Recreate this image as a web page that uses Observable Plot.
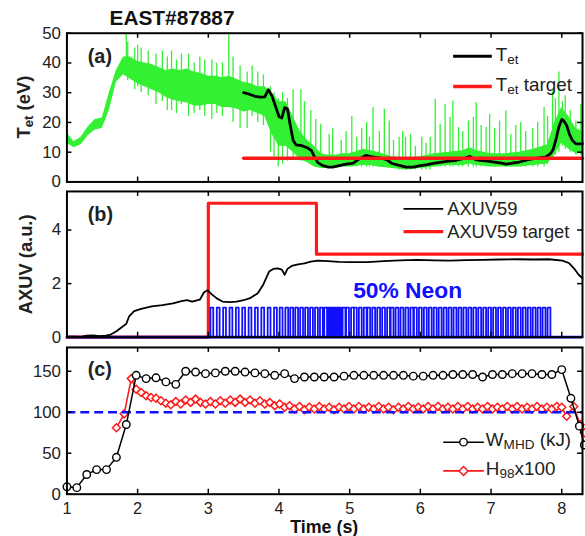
<!DOCTYPE html>
<html><head><meta charset="utf-8">
<script src="https://cdn.jsdelivr.net/npm/d3@7"></script>
<script src="https://cdn.jsdelivr.net/npm/@observablehq/plot@0.6"></script>
<style>
body{margin:0;background:#fff;overflow:hidden;}
#wrap{position:relative;width:585px;height:536px;overflow:hidden;background:#fff;}
#wrap svg{position:absolute;left:0;overflow:visible;}
</style></head><body><div id="wrap"></div>
<script>
// ---------- data ----------
const title = "EAST#87887";
const xTicks = [1, 2, 3, 4, 5, 6, 7, 8];
const xDomain = [1, 8.294];

// Panel (a)
const yTicksA = [0, 10, 20, 30, 40, 50];
const greenT  = [1.0,1.1,1.2,1.3,1.4,1.5,1.6,1.7,1.8,1.9,2.0,2.1,2.2,2.3,2.4,2.5,2.6,2.7,2.8,2.9,3.0,3.1,3.2,3.3,3.4,3.5,3.6,3.7,3.8,3.9,4.0,4.1,4.2,4.3,4.4,4.5,4.6,4.7,4.8,4.9,5.0,5.2,5.3,5.4,5.6,5.8,6.0,6.2,6.4,6.6,6.7,6.8,7.0,7.2,7.4,7.6,7.8,7.9,8.0,8.1,8.2,8.294];
const greenLo = [13,11.5,12.5,15.5,17.5,18,24,33.5,36,34.5,33,32,31,30,28.5,27.5,27,26.5,25.5,25.5,26,26,25,25,24.5,23.5,24,23,22,16,12,12,10,7.5,6.5,5,4.5,4.5,4.5,5,5,5.5,5.5,5,4.5,4,4.5,5,5.5,5.5,6,5.5,5,5,5,5.5,6,9,13,11,9.5,9.5];
const greenHi = [16.5,13.5,15,18.5,21,21.5,30,37.5,42,42,40.5,40,39.5,38.5,37.5,38,37.5,38,37,36.5,35.5,35.5,35,35.5,34.5,33.5,33,32,32,30,27,27,22,17,14,12,9.5,9,9,9.5,9.5,11,10.5,10,8.5,8,8.5,9.5,10,10.5,11.5,10.5,9.5,9.5,10,11,12.5,20,25,22,18,17];
const spikeT  = [1.84,1.86,1.96,2.00,2.05,2.15,2.26,2.35,2.42,2.48,2.55,2.62,2.72,2.80,2.88,2.95,3.05,3.12,3.20,3.29,3.35,3.45,3.55,3.62,3.70,3.78,3.88,3.93,3.99,4.05,4.12,4.20,4.31,4.36,4.45,4.52,4.59,4.71,4.76,4.88,4.95,5.03,5.10,5.17,5.24,5.28,5.33,5.42,5.49,5.56,5.62,5.70,5.75,5.79,5.86,5.93,6.02,6.08,6.14,6.21,6.28,6.35,6.42,6.46,6.54,6.60,6.68,6.75,6.79,6.86,6.93,6.98,7.05,7.12,7.21,7.28,7.35,7.42,7.49,7.59,7.66,7.75,7.80,7.87,7.91,7.96,8.01,8.05,8.12,8.20,8.27];
const spikeLo = [36,34,31,32,30,29,26,27,24,24,23,26,22,23,24,22,21,23,22,25,20,18,18,22,20,19,10,8,5,6,7,8,7,7,6,6,5,5,5,5,5,5,5,5,5,5,5,5,5,5,5,4,4,4,4,4,4,4,4,5,5,5,5,5,5,5,5,5,5,5,5,5,5,5,5,5,5,5,5,5,5,5,6,8,9,10,12,11,10,9,9];
const spikeHi = [50,47,45,46,45,44,43,44,42,44,41,43,43,40,42,41,41,40,40,50,42,39,37,39,37,36,32,30,28,30,28,31,31,27,24,21,19.4,16,18,14,17,22,15,18,20,15,25,17,24.4,20.5,14,15,17,15,16,12,15,13,15,27.8,19.4,26,21.7,27.2,18.3,17,20.5,21.7,26.7,19,18.3,22.8,18,20.5,23.9,16,19,20,17,18,20,25,22,30.6,28,37,27,29,24,20.5,26];
const tetT = [3.50,3.58,3.66,3.74,3.80,3.85,3.90,3.95,4.00,4.04,4.08,4.12,4.16,4.20,4.24,4.32,4.40,4.46,4.50,4.55,4.62,4.70,4.76,4.85,4.95,5.05,5.15,5.23,5.30,5.37,5.45,5.52,5.60,5.70,5.80,5.90,6.00,6.10,6.20,6.30,6.40,6.50,6.60,6.70,6.78,6.86,6.95,7.05,7.15,7.21,7.30,7.40,7.50,7.60,7.70,7.78,7.84,7.88,7.92,7.96,8.00,8.03,8.07,8.11,8.15,8.20,8.294];
const tetV = [30,29.5,28.8,28.5,28.6,31,29,25.5,22,21.5,25,24.5,19,14,12.5,12.2,11.5,10.5,8.5,6.5,5.5,5,5,5.5,6,6.3,8,8.9,8.5,8.3,8,7.5,6.2,5.6,5,5,5.5,5.8,6.3,6.7,7,7.2,7.8,8.6,7.5,7.2,7,6.7,6.3,6,6.3,6.7,7.3,7.8,8.2,8.4,9.5,11,14.5,18.5,21,20.5,19,16,14,12.8,12.8];
const tetTargetT = [3.5, 8.294];
const tetTargetV = [8, 8];

// Panel (b)
const yTicksB = [0, 2, 4];
const axuvT = [1.00,1.10,1.20,1.28,1.37,1.46,1.55,1.62,1.70,1.78,1.84,1.88,1.95,2.05,2.20,2.35,2.50,2.62,2.70,2.77,2.88,2.94,2.99,3.05,3.12,3.20,3.30,3.40,3.50,3.60,3.70,3.78,3.86,3.92,3.98,4.04,4.08,4.12,4.18,4.27,4.36,4.45,4.55,4.69,4.85,5.00,5.25,5.48,5.71,5.95,6.20,6.42,6.65,6.89,7.10,7.35,7.60,7.82,8.01,8.10,8.17,8.24,8.294];
const axuvV = [0.02,0.02,0.01,0.06,0.07,0.04,0.06,0.1,0.22,0.38,0.5,0.78,0.97,1.06,1.15,1.2,1.26,1.35,1.38,1.33,1.4,1.68,1.75,1.6,1.45,1.33,1.31,1.33,1.38,1.47,1.64,1.98,2.45,2.55,2.57,2.52,2.33,2.55,2.66,2.72,2.76,2.82,2.86,2.84,2.81,2.80,2.80,2.84,2.87,2.89,2.87,2.86,2.88,2.89,2.90,2.91,2.90,2.91,2.86,2.77,2.58,2.33,2.2];
const axuvTargetT = [1.0, 3.0, 4.53, 8.294];
const axuvTargetV = [0, 5, 3.1, 3.1];
const neonPulses = [3.03,3.12,3.21,3.30,3.39,3.48,3.57,3.66,3.75,3.84,3.93,4.01,4.09,4.16,4.23,4.30,4.37,4.44,4.51,4.58,4.64,4.68,4.70,4.72,4.74,4.76,4.78,4.80,4.82,4.84,4.90,4.95,5.02,5.06,5.13,5.20,5.25,5.32,5.39,5.46,5.53,5.58,5.65,5.72,5.79,5.86,5.91,5.98,6.05,6.12,6.19,6.26,6.33,6.40,6.47,6.54,6.61,6.68,6.75,6.82,6.89,6.96,7.03,7.10,7.17,7.24,7.31,7.38,7.45,7.52,7.59,7.66,7.73,7.80];
const neonLevel = 1.1;
const neonPulseWidth = 0.04;
const neonLabel = [{t: 5.82, v: 1.72, text: "50% Neon"}];

// Panel (c)
const yTicksC = [0, 50, 100, 150];
const wT = [1.00,1.14,1.28,1.42,1.56,1.70,1.84,1.98,2.12,2.26,2.40,2.54,2.68,2.82,2.96,3.10,3.24,3.38,3.52,3.66,3.80,3.94,4.08,4.22,4.36,4.50,4.64,4.78,4.92,5.06,5.20,5.34,5.48,5.62,5.76,5.90,6.04,6.18,6.32,6.46,6.60,6.74,6.88,7.02,7.16,7.30,7.44,7.58,7.72,7.86,8.00,8.13,8.25,8.32];
const wV = [9,8,24,30,30,45,85,145,141,142,137,134,150,149,147,148,150,150,149,148,147,145,147,141,143,143,143,143,144,145,145,145,145,145,145,144,144,145,145,146,146,146,143,146,146,147,147,147,146,146,152,117,83,60];
const hT = [1.70,1.81,1.91,1.98,2.05,2.12,2.19,2.26,2.33,2.40,2.47,2.54,2.61,2.68,2.75,2.82,2.89,2.96,3.03,3.10,3.17,3.24,3.31,3.38,3.45,3.52,3.59,3.66,3.73,3.80,3.87,3.94,4.01,4.08,4.15,4.22,4.29,4.36,4.43,4.50,4.57,4.64,4.71,4.78,4.85,4.92,4.99,5.06,5.13,5.20,5.27,5.34,5.41,5.48,5.55,5.62,5.69,5.76,5.83,5.90,5.97,6.04,6.11,6.18,6.25,6.32,6.39,6.46,6.53,6.60,6.67,6.74,6.81,6.88,6.95,7.02,7.09,7.16,7.23,7.30,7.37,7.44,7.51,7.58,7.65,7.72,7.79,7.86,7.93,8.00,8.07,8.17,8.26,8.32];
const hV = [81,98,141,128,124,120,118,117,114,111,109,113,110,115,112,116,112,110,113,110,114,111,115,112,116,112,115,111,114,110,112,108,110,106,108,104,107,103,106,104,107,104,106,103,106,104,107,104,107,104,106,104,107,104,106,103,106,104,107,104,106,104,107,104,107,104,106,104,107,104,107,104,106,104,107,104,106,104,107,104,107,104,106,104,107,104,106,104,107,106,95,107,85,75];
const hRef = [100];

// ---------- helpers ----------
const FONT = "Liberation Sans, Arial, Helvetica, sans-serif";
const W = 590, ML = 67, MR = 3, FW = W - ML - MR;
const GREEN = "#33f033";
const wrap = document.getElementById("wrap");
const zip = (a, b) => a.map((t, i) => ({t, v: b[i]}));

function frameMarks(yTicks, frameH) {
  return [
    Plot.tickX(xTicks, {x: d => d, insetTop: frameH - 5, stroke: "#000", strokeWidth: 1.5}),
    Plot.tickX(xTicks, {x: d => d, insetBottom: frameH - 5, stroke: "#000", strokeWidth: 1.5}),
    Plot.tickY(yTicks, {y: d => d, insetRight: FW - 5, stroke: "#000", strokeWidth: 1.5}),
    Plot.tickY(yTicks, {y: d => d, insetLeft: FW - 5, stroke: "#000", strokeWidth: 1.5}),
    Plot.axisY(yTicks, {tickSize: 0, tickPadding: 6, fontSize: 17, fill: "#222", label: null}),
    Plot.frame({stroke: "#000", strokeWidth: 2})
  ];
}
function place(svg, top) { svg.style.top = top + "px"; wrap.appendChild(svg); return d3.select(svg); }

function subText(g, x, y, parts, opts = {}) {
  const t = g.append("text").attr("x", x).attr("y", y)
    .attr("font-family", FONT).attr("font-size", opts.size || 18)
    .attr("font-weight", opts.bold ? "bold" : "normal").attr("fill", "#222")
    .attr("text-anchor", opts.rotate ? "middle" : "start")
    .attr("dominant-baseline", "central");
  if (opts.rotate) t.attr("transform", `rotate(-90,${x},${y})`);
  let prevSub = false;
  parts.forEach(([s, sub]) => {
    const ts = t.append("tspan").text(s);
    if (sub) { ts.attr("font-size", "0.72em").attr("dy", "0.38em"); }
    else if (prevSub) { ts.attr("dy", "-0.27em"); }
    prevSub = !!sub;
  });
  return t;
}

// ---------- Panel (a) ----------
const hA = 186, mtA = 33, mbA = 3, fhA = hA - mtA - mbA;
const greenData = greenT.map((t, i) => ({t, lo: greenLo[i], hi: greenHi[i]}));
const spikeData = spikeT.map((t, i) => ({t, lo: spikeLo[i], hi: spikeHi[i]}));
const svgA = Plot.plot({
  width: W, height: hA, marginLeft: ML, marginRight: MR, marginTop: mtA, marginBottom: mbA,
  style: {fontFamily: FONT, background: "transparent"},
  x: {domain: xDomain, axis: null},
  y: {domain: [0, 50]},
  marks: [
    Plot.areaY(greenData, {x: "t", y1: "lo", y2: "hi", fill: GREEN}),
    Plot.ruleX(spikeData, {x: "t", y1: "lo", y2: "hi", stroke: GREEN, strokeWidth: 1.3}),
    Plot.line(zip(tetT, tetV), {x: "t", y: "v", stroke: "#000", strokeWidth: 2.8}),
    Plot.line(zip(tetTargetT, tetTargetV), {x: "t", y: "v", stroke: "#ff1a1a", strokeWidth: 3.5}),
    ...frameMarks(yTicksA, fhA),
    Plot.text(["(a)"], {frameAnchor: "top-left", dx: 21, dy: 23.5, textAnchor: "start", lineAnchor: "middle", fontSize: 20, fontWeight: "bold", fill: "#222"}),
    Plot.text([title], {frameAnchor: "top-left", dx: 43, dy: -15, textAnchor: "start", lineAnchor: "middle", fontSize: 21, fontWeight: "bold", fill: "#111"})
  ]
});
const gA = place(svgA, 0);
subText(gA, 23, 108, [["T"], ["et", true], [" (eV)"]], {bold: true, rotate: true, size: 18.5});
gA.append("line").attr("x1", 457).attr("x2", 496).attr("y1", 56.7).attr("y2", 56.7).attr("stroke", "#000").attr("stroke-width", 3);
gA.append("line").attr("x1", 457).attr("x2", 496).attr("y1", 87.3).attr("y2", 87.3).attr("stroke", "#ff1a1a").attr("stroke-width", 3.5);
subText(gA, 500, 54, [["T"], ["et", true]], {size: 19});
subText(gA, 500, 85, [["T"], ["et", true], [" target"]], {size: 19});

// ---------- Panel (b) ----------
const hB = 155, mtB = 4, mbB = 4, fhB = hB - mtB - mbB;
const pulsePath = [{t: xDomain[0], v: 0}];
neonPulses.forEach(p => {
  pulsePath.push({t: p, v: 0}, {t: p, v: neonLevel}, {t: p + neonPulseWidth, v: neonLevel}, {t: p + neonPulseWidth, v: 0});
});
pulsePath.push({t: xDomain[1], v: 0});
const svgB = Plot.plot({
  width: W, height: hB, marginLeft: ML, marginRight: MR, marginTop: mtB, marginBottom: mbB,
  style: {fontFamily: FONT, background: "transparent"},
  x: {domain: xDomain, axis: null},
  y: {domain: [0, 5.44]},
  marks: [
    Plot.line(zip(axuvTargetT, axuvTargetV), {x: "t", y: "v", curve: "step-after", stroke: "#ff1a1a", strokeWidth: 3.2}),
    Plot.line(pulsePath, {x: "t", y: "v", stroke: "#1010ff", strokeWidth: 1.8}),
    Plot.ruleY([0], {stroke: "#1010ff", strokeWidth: 2.8}),
    Plot.line(zip(axuvT, axuvV), {x: "t", y: "v", stroke: "#000", strokeWidth: 1.8}),
    Plot.text(neonLabel, {x: "t", y: "v", text: "text", fill: "#1010ff", fontSize: 23, fontWeight: "bold"}),
    ...frameMarks(yTicksB, fhB),
    Plot.text(["(b)"], {frameAnchor: "top-left", dx: 21, dy: 23.5, textAnchor: "start", lineAnchor: "middle", fontSize: 20, fontWeight: "bold", fill: "#222"})
  ]
});
const gB = place(svgB, 187);
subText(gB, 25, 265 - 187, [["AXUV (a.u.)"]], {bold: true, rotate: true, size: 18.5});
gB.append("line").attr("x1", 407).attr("x2", 447).attr("y1", 22).attr("y2", 22).attr("stroke", "#000").attr("stroke-width", 1.8);
gB.append("line").attr("x1", 407).attr("x2", 447).attr("y1", 45).attr("y2", 45).attr("stroke", "#ff1a1a").attr("stroke-width", 3.2);
subText(gB, 451, 21, [["AXUV59"]], {size: 18.5});
subText(gB, 451, 44, [["AXUV59 target"]], {size: 18.5});

// ---------- Panel (c) ----------
const hC = 193, mtC = 4, mbC = 41, fhC = hC - mtC - mbC;
const svgC = Plot.plot({
  width: W, height: hC, marginLeft: ML, marginRight: MR, marginTop: mtC, marginBottom: mbC,
  style: {fontFamily: FONT, background: "transparent"},
  x: {domain: xDomain},
  y: {domain: [0, 179]},
  marks: [
    Plot.line(zip(hT, hV), {x: "t", y: "v", stroke: "#ff1a1a", strokeWidth: 1.6}),
    Plot.dot(zip(hT, hV), {x: "t", y: "v", symbol: "diamond2", r: 3.6, stroke: "#ff1a1a", fill: "#fff", strokeWidth: 1.5}),
    Plot.ruleY(hRef, {stroke: "#1010ff", strokeWidth: 2.6, strokeDasharray: "9,5"}),
    Plot.line(zip(wT, wV), {x: "t", y: "v", stroke: "#000", strokeWidth: 1.5}),
    Plot.dot(zip(wT, wV), {x: "t", y: "v", r: 3.8, stroke: "#000", fill: "#fff", strokeWidth: 1.4}),
    ...frameMarks(yTicksC, fhC),
    Plot.axisX(xTicks, {tickSize: 0, tickPadding: 8, fontSize: 16.5, fill: "#222", label: null}),
    Plot.text(["(c)"], {frameAnchor: "top-left", dx: 21, dy: 22.5, textAnchor: "start", lineAnchor: "middle", fontSize: 20, fontWeight: "bold", fill: "#222"})
  ]
});
const gC = place(svgC, 343);
gC.append("line").attr("x1", 447).attr("x2", 488).attr("y1", 100).attr("y2", 100).attr("stroke", "#000").attr("stroke-width", 1.5);
gC.append("circle").attr("cx", 467.5).attr("cy", 100).attr("r", 3.8).attr("fill", "#fff").attr("stroke", "#000").attr("stroke-width", 1.4);
gC.append("line").attr("x1", 447).attr("x2", 488).attr("y1", 129).attr("y2", 129).attr("stroke", "#ff1a1a").attr("stroke-width", 1.6);
gC.append("path").attr("d", "M467.5,124.5L472,129L467.5,133.5L463,129Z").attr("fill", "#fff").attr("stroke", "#ff1a1a").attr("stroke-width", 1.5);
subText(gC, 490, 97, [["W"], ["MHD", true], [" (kJ)"]], {size: 19});
subText(gC, 490, 126, [["H"], ["98", true], ["x100"]], {size: 19});
gC.append("text").attr("x", 327).attr("y", 529 - 343).attr("text-anchor", "middle")
  .attr("dominant-baseline", "central").attr("font-family", FONT).attr("font-size", 18)
  .attr("font-weight", "bold").attr("fill", "#111").text("Time (s)");
</script>
</body></html>
